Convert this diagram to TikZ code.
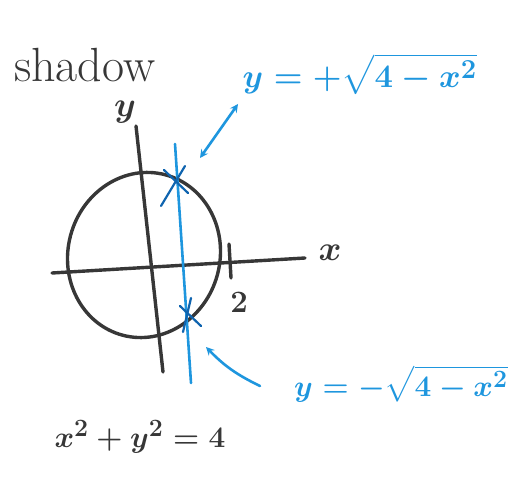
\documentclass[tikz,border=0pt]{standalone}
\usepackage{amsmath,amssymb}
\usepackage{tikz}
\usetikzlibrary{calc}
\definecolor{marker}{RGB}{55,55,55}
\definecolor{pen}{RGB}{30,150,222}
\definecolor{darkpen}{RGB}{15,100,175}
\tikzset{
  ink/.style={draw=marker, line width=3.4pt, line cap=round},
  blueink/.style={draw=pen, line width=2.6pt, line cap=round},
  cross/.style={draw=darkpen, line width=2.2pt, line cap=round},
  handtext/.style={font=\Huge\boldmath, transform shape}
}
\begin{document}
\begin{tikzpicture}[>=stealth, x=1pt, y=-1pt]
\useasboundingbox (0,0) rectangle (532,486);
% circle and axes
\draw[ink, rotate around={-15:(144,255)}] (144,255) ellipse (76 and 83);
\draw[ink] (52,273) -- (305,258);
\draw[ink] (136,126) -- (163,372);
\draw[ink] (229,244) -- (231,278);
\node[text=marker, handtext, scale=1.4] (xlbl) at (330,253) {$x$};
\node[text=marker, handtext, scale=1.4, inner sep=0pt] (ylbl) at (125,112) {$y$};
\node[text=marker, handtext, scale=1.25] (twolbl) at (239,302) {$2$};
% the blue line and the two points
\draw[blueink] (175,144) -- (191,383);
\coordinate (ptup) at (177,182);
\coordinate (ptdown) at (188,314);
\draw[cross] ($(ptup)+(-13,-12)$) -- ($(ptup)+(11,11)$);
\draw[cross] ($(ptup)+(8,-16)$) -- ($(ptup)+(-16,24)$);
\draw[cross] ($(ptdown)+(-8,-8)$) -- ($(ptdown)+(13,12)$);
\draw[cross] ($(ptdown)+(3,-16)$) -- ($(ptdown)+(-5,18)$);
% labels
\node[text=marker, font=\fontsize{48}{52}\selectfont, anchor=base west, inner sep=0pt] (shadowlbl) at (14,82) {shadow};
\node[text=pen, handtext, scale=1.32, anchor=west] (upperlbl) at (238,74) {$y=+\sqrt{4-x^2}$};
\node[text=pen, handtext, scale=1.2, anchor=west] (lowerlbl) at (290,384) {$y=-\sqrt{4-x^2}$};
\node[text=marker, handtext, scale=1.2] (eqlbl) at (140,437) {$x^2+y^2=4$};
\coordinate (tipup) at (200,158);
\coordinate (tailup) at (238,104);
\coordinate (tipdown) at (206,347);
\coordinate (taildown) at (260,386);
\draw[blueink, <->] (tipup) -- (tailup);
\draw[blueink, ->] (taildown) to[bend left=10] (tipdown);
\end{tikzpicture}
\end{document}
